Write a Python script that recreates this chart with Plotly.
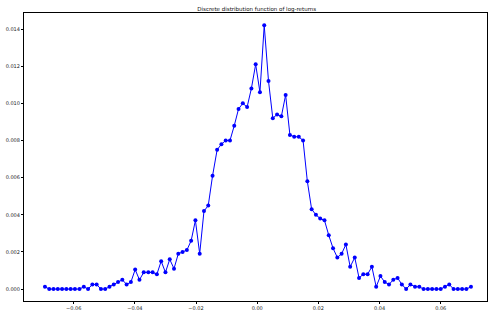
import plotly.graph_objects as go

# Bin positions (log-return values)
log_returns = [
    -0.0694, -0.0680, -0.0666, -0.0652, -0.0638, -0.0624, -0.0610, -0.0596, -0.0581, -0.0567,
    -0.0553, -0.0539, -0.0525, -0.0511, -0.0497, -0.0483, -0.0469, -0.0455, -0.0441, -0.0427,
    -0.0413, -0.0399, -0.0385, -0.0371, -0.0356, -0.0342, -0.0328, -0.0314, -0.0300, -0.0286,
    -0.0272, -0.0258, -0.0244, -0.0230, -0.0216, -0.0202, -0.0188, -0.0174, -0.0160, -0.0146,
    -0.0131, -0.0117, -0.0103, -0.0089, -0.0075, -0.0061, -0.0047, -0.0033, -0.0019, -0.0005,
    0.0009, 0.0023, 0.0037, 0.0051, 0.0065, 0.0079, 0.0093, 0.0107, 0.0121, 0.0136,
    0.0150, 0.0164, 0.0178, 0.0192, 0.0206, 0.0220, 0.0234, 0.0248, 0.0262, 0.0276,
    0.0290, 0.0304, 0.0319, 0.0333, 0.0347, 0.0361, 0.0375, 0.0389, 0.0403, 0.0417,
    0.0431, 0.0445, 0.0459, 0.0473, 0.0487, 0.0501, 0.0516, 0.0530, 0.0544, 0.0558,
    0.0572, 0.0586, 0.0600, 0.0614, 0.0628, 0.0642, 0.0656, 0.0670, 0.0684, 0.0699,
]

# Probabilities
probabilities = [
    0.000125, 0.0, 0.0, 0.0, 0.0, 0.0, 0.0, 0.0, 0.0, 0.000125,
    0.0, 0.00025, 0.00025, 0.0, 0.0, 0.000125, 0.00025, 0.000375, 0.0005, 0.00025,
    0.000375, 0.00105, 0.0005, 0.0009, 0.0009, 0.0009, 0.0008, 0.0015, 0.0009, 0.0016,
    0.0011, 0.0019, 0.0020, 0.0021, 0.0026, 0.0037, 0.0019, 0.0042, 0.0045, 0.0061,
    0.0075, 0.0078, 0.0080, 0.0080, 0.0088, 0.0097, 0.0100, 0.0098, 0.0108, 0.0121,
    0.0106, 0.0142, 0.0112, 0.0092, 0.0094, 0.0093, 0.01045, 0.0083, 0.0082, 0.0082,
    0.0080, 0.0058, 0.0043, 0.0040, 0.0038, 0.0037, 0.0029, 0.0022, 0.0017, 0.0019,
    0.0024, 0.0012, 0.0017, 0.0006, 0.0008, 0.0008, 0.0012, 0.000125, 0.0007, 0.000375,
    0.00025, 0.0005, 0.0006, 0.00025, 0.0, 0.00025, 0.000125, 0.000125, 0.0, 0.0,
    0.0, 0.0, 0.0, 0.000125, 0.00025, 0.0, 0.0, 0.0, 0.0, 0.000125,
]

x_ticks = [-0.06, -0.04, -0.02, 0.0, 0.02, 0.04, 0.06]
y_ticks = [0.000, 0.002, 0.004, 0.006, 0.008, 0.010, 0.012, 0.014]

fig = go.Figure()
fig.add_trace(go.Scatter(
    x=log_returns, y=probabilities, mode="lines+markers",
    line=dict(color="#0000ff", width=1),
    marker=dict(color="#0000ff", size=4),
    showlegend=False,
))

font = dict(family="DejaVu Sans", size=5, color="#222222")
fig.update_layout(
    width=489, height=312,
    margin=dict(l=24, r=1, t=13, b=9),
    paper_bgcolor="white", plot_bgcolor="white",
    font=font,
    title=dict(text="Discrete distribution function of log-returns",
               x=0.525, xanchor="center", y=0.972, yanchor="middle",
               font=dict(family="DejaVu Sans", size=5.5, color="#111111")),
    xaxis=dict(range=[-0.07625, 0.07514], tickvals=x_ticks, tickformat=".2f",
               showgrid=False, zeroline=False, showline=True, mirror=True,
               linecolor="#000000", linewidth=1, ticks="outside", ticklen=2,
               tickwidth=1, tickcolor="#000000", tickfont=font),
    yaxis=dict(range=[-0.000642, 0.014866], tickvals=y_ticks, tickformat=".3f",
               showgrid=False, zeroline=False, showline=True, mirror=True,
               linecolor="#000000", linewidth=1, ticks="outside", ticklen=2,
               tickwidth=1, tickcolor="#000000", tickfont=font),
)

fig.write_html("out.html",
               config={"displayModeBar": False},
               post_script="document.body.style.margin='0';document.body.style.padding='0';")
